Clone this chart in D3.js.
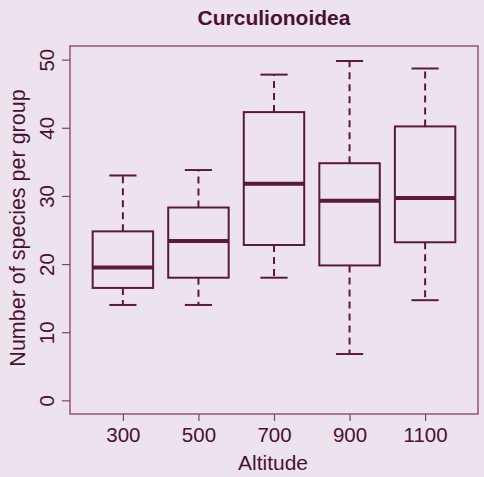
<!DOCTYPE html>
<html>
<head>
<meta charset="utf-8">
<script src="https://cdn.jsdelivr.net/npm/d3@7"></script>
<style>
  html, body { margin: 0; padding: 0; background: #ece3ef; }
  svg { display: block; }
  text { font-family: "Liberation Sans", Arial, Helvetica, sans-serif; fill: #4a1030; }
</style>
</head>
<body>
<script>
// Species counts per group at each altitude (five-number summaries)
const altitudes   = ["300", "500", "700", "900", "1100"];
const lowWhisker  = [14, 14, 18, 6.8, 14.7];
const lowerQuart  = [16.5, 18, 22.8, 19.8, 23.2];
const medians     = [19.5, 23.4, 31.8, 29.3, 29.7];
const upperQuart  = [24.8, 28.3, 42.3, 34.8, 40.2];
const highWhisker = [33, 33.8, 47.8, 49.8, 48.7];
const yTicks      = [0, 10, 20, 30, 40, 50];

const W = 484, H = 477;
const boxColor = "#5b1a38";
const frameColor = "#84405f";

const svg = d3.select("body").append("svg")
  .attr("width", W).attr("height", H);

svg.append("rect").attr("width", W).attr("height", H).attr("fill", "#ece3ef");

// group index scale (1..5) with the usual 4% padding around [0.5, 5.5]
const x = d3.scaleLinear().domain([0.3, 5.7]).range([70, 478]);
const y = d3.scaleLinear().domain([-2, 52]).range([414, 46]);

const halfBox = 0.4, halfCap = 0.18;

const data = altitudes.map((a, i) => ({
  label: a, pos: i + 1,
  lo: lowWhisker[i], q1: lowerQuart[i], med: medians[i],
  q3: upperQuart[i], hi: highWhisker[i]
}));

const g = svg.append("g");

// whiskers (dashed)
g.selectAll(".wlow").data(data).join("line")
  .attr("x1", d => x(d.pos)).attr("x2", d => x(d.pos))
  .attr("y1", d => y(d.q1)).attr("y2", d => y(d.lo))
  .attr("stroke", boxColor).attr("stroke-width", 2).attr("stroke-dasharray", "7,5");
g.selectAll(".whigh").data(data).join("line")
  .attr("x1", d => x(d.pos)).attr("x2", d => x(d.pos))
  .attr("y1", d => y(d.q3)).attr("y2", d => y(d.hi))
  .attr("stroke", boxColor).attr("stroke-width", 2).attr("stroke-dasharray", "7,5");

// staples
g.selectAll(".caplo").data(data).join("line")
  .attr("x1", d => x(d.pos - halfCap)).attr("x2", d => x(d.pos + halfCap))
  .attr("y1", d => y(d.lo)).attr("y2", d => y(d.lo))
  .attr("stroke", boxColor).attr("stroke-width", 2);
g.selectAll(".caphi").data(data).join("line")
  .attr("x1", d => x(d.pos - halfCap)).attr("x2", d => x(d.pos + halfCap))
  .attr("y1", d => y(d.hi)).attr("y2", d => y(d.hi))
  .attr("stroke", boxColor).attr("stroke-width", 2);

// boxes
g.selectAll(".box").data(data).join("rect")
  .attr("x", d => x(d.pos - halfBox))
  .attr("width", d => x(d.pos + halfBox) - x(d.pos - halfBox))
  .attr("y", d => y(d.q3))
  .attr("height", d => y(d.q1) - y(d.q3))
  .attr("fill", "none").attr("stroke", boxColor).attr("stroke-width", 2);

// medians
g.selectAll(".med").data(data).join("line")
  .attr("x1", d => x(d.pos - halfBox)).attr("x2", d => x(d.pos + halfBox))
  .attr("y1", d => y(d.med)).attr("y2", d => y(d.med))
  .attr("stroke", boxColor).attr("stroke-width", 4);

// plot frame
svg.append("rect")
  .attr("x", 70).attr("y", 46).attr("width", 408).attr("height", 368)
  .attr("fill", "none").attr("stroke", frameColor).attr("stroke-width", 1.3);

// x axis
const xAxis = d3.axisBottom(x)
  .tickValues(data.map(d => d.pos))
  .tickFormat((d, i) => altitudes[i])
  .tickSize(7).tickPadding(6);
const xg = svg.append("g").attr("transform", "translate(0,414)").call(xAxis);
xg.select(".domain").remove();
xg.selectAll(".tick line").attr("stroke", frameColor).attr("stroke-width", 1.2);
xg.selectAll(".tick text").attr("fill", "#4a1030")
  .style("font-size", "20.5px").attr("font-family", null);

// y axis with labels parallel to the axis
const yAxis = d3.axisLeft(y).tickValues(yTicks).tickSize(8).tickFormat(d3.format("d"));
const yg = svg.append("g").attr("transform", "translate(70,0)").call(yAxis);
yg.select(".domain").remove();
yg.selectAll(".tick line").attr("stroke", frameColor).attr("stroke-width", 1.2);
yg.selectAll(".tick text")
  .attr("x", null).attr("dy", null)
  .attr("text-anchor", "middle")
  .attr("transform", "translate(-16,0) rotate(-90)")
  .attr("fill", "#4a1030")
  .style("font-size", "20.5px").attr("font-family", null);

// title and axis titles
svg.append("text").attr("x", 274).attr("y", 25).attr("text-anchor", "middle")
  .style("font-size", "21px").style("font-weight", "bold")
  .text("Curculionoidea");
svg.append("text").attr("x", 273).attr("y", 470).attr("text-anchor", "middle")
  .style("font-size", "21px")
  .text("Altitude");
svg.append("text")
  .attr("transform", "translate(25,228) rotate(-90)")
  .attr("text-anchor", "middle")
  .style("font-size", "21.5px")
  .text("Number of species per group");
</script>
</body>
</html>
